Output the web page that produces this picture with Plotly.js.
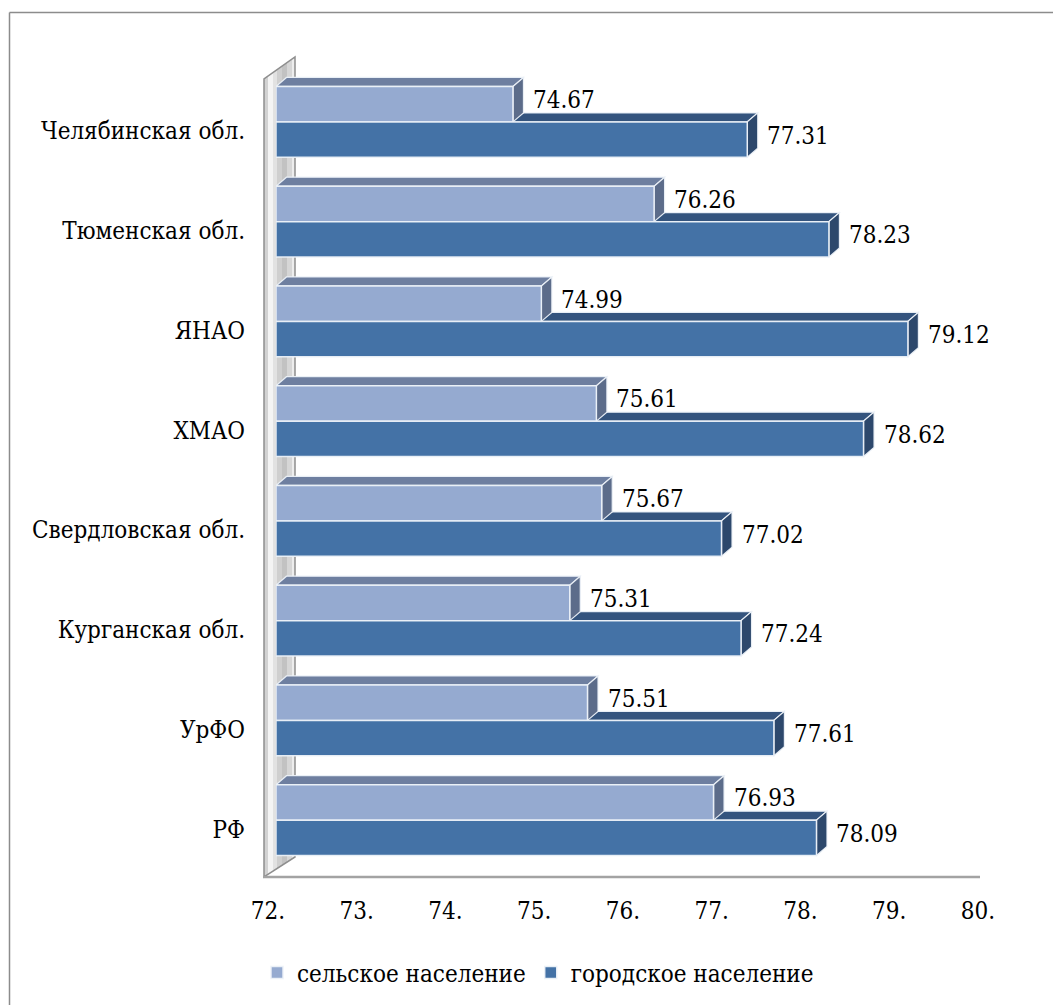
<!DOCTYPE html>
<html>
<head>
<meta charset="utf-8">
<script src="https://cdn.plot.ly/plotly-3.0.1.min.js"></script>
<style>
  html, body { margin: 0; padding: 0; background: #ffffff; }
  #chart { width: 1053px; height: 1005px; }
</style>
</head>
<body>
<div id="chart"></div>
<script>
// Life expectancy by region, rural vs urban population (listed bottom to top)
const regions = ['РФ', 'УрФО', 'Курганская обл.', 'Свердловская обл.', 'ХМАО', 'ЯНАО', 'Тюменская обл.', 'Челябинская обл.'];
const rural = [76.93, 75.51, 75.31, 75.67, 75.61, 74.99, 76.26, 74.67];
const urban = [78.09, 77.61, 77.24, 77.02, 78.62, 79.12, 78.23, 77.31];
const seriesNames = ['сельское население', 'городское население'];
const xTickVals = [72, 73, 74, 75, 76, 77, 78, 79, 80];
const xTickText = ['72.', '73.', '74.', '75.', '76.', '77.', '78.', '79.', '80.'];

// ---- figure geometry ----
const W = 1053, H = 1005;
const M = { l: 276, r: 67, t: 72, b: 135 };
const plotW = W - M.l - M.r, plotH = H - M.t - M.b;
const X0 = 72, X1 = 80, Y0 = -0.5, Y1 = 7.5;
const pxPerX = plotW / (X1 - X0), pxPerY = plotH / (Y1 - Y0);
const BAR_W = 0.355;
// oblique depth of each bar, given in pixels and converted to axis units
const DEPTH_DX = 10.5 / pxPerX, DEPTH_DY = 9 / pxPerY;

const FONT = 'DejaVu Serif Condensed, DejaVu Serif';
const colors = {
  rural: { front: '#95aad0', top: '#6e7fa0', side: '#5c6c8a' },
  urban: { front: '#4472a6', top: '#34547e', side: '#2d486c' }
};
const EDGE = 'rgba(236,241,248,0.95)';

// pixel -> paper helpers for the frame decorations
const px = x => (x - M.l) / plotW;
const py = y => (H - M.b - y) / plotH;
const poly = pts => 'M' + pts.map(p => px(p[0]).toFixed(5) + ',' + py(p[1]).toFixed(5)).join('L') + 'Z';

const shapes = [];

// left wall of the 3-D box: a thin panel shaded from light to grey
const wallF = 264, wallB = 295, wallTopF = 79, wallTopB = 57, floorY = 877, floorBackY = 857;
const slope = (wallTopF - wallTopB) / (wallB - wallF);
function wallBand(xa, xb, fill) {
  const ta = wallTopF - (xa - wallF) * slope, tb = wallTopF - (xb - wallF) * slope;
  const ba = floorY - (xa - wallF) * (floorY - floorBackY) / (wallB - wallF);
  const bb = floorY - (xb - wallF) * (floorY - floorBackY) / (wallB - wallF);
  shapes.push({ type: 'path', xref: 'paper', yref: 'paper', layer: 'below',
    path: poly([[xa, ba], [xa, ta], [xb, tb], [xb, bb]]), fillcolor: fill, line: { width: 0 } });
}
wallBand(wallF, wallF + 4, '#d2d2d2');
wallBand(wallF + 4, wallF + 9, '#f4f4f4');
wallBand(wallF + 9, wallF + 13, '#e2e2e2');
wallBand(wallF + 13, wallF + 18, '#cfcfcf');
wallBand(wallF + 18, wallF + 23, '#c2c2c2');
wallBand(wallF + 23, wallF + 28, '#d6d6d6');
wallBand(wallF + 28, wallB, '#ededed');
shapes.push({ type: 'path', xref: 'paper', yref: 'paper', layer: 'below',
  path: poly([[wallF, floorY], [wallF, wallTopF], [wallB, wallTopB], [wallB, floorBackY]]),
  fillcolor: 'rgba(0,0,0,0)', line: { color: '#8e8e8e', width: 1.5 } });
// floor front edge
shapes.push({ type: 'line', xref: 'paper', yref: 'paper', layer: 'below',
  x0: px(wallF - 1), x1: px(980), y0: py(floorY), y1: py(floorY),
  line: { color: '#a3a3a3', width: 2.5 } });
// outer frame of the chart area
shapes.push({ type: 'line', xref: 'paper', yref: 'paper', layer: 'below',
  x0: px(9.5), x1: px(W + 5), y0: py(12.5), y1: py(12.5), line: { color: '#8c8c8c', width: 1.5 } });
shapes.push({ type: 'line', xref: 'paper', yref: 'paper', layer: 'below',
  x0: px(9.5), x1: px(9.5), y0: py(12.5), y1: py(H + 5), line: { color: '#8c8c8c', width: 1.5 } });

// top and side faces of a bar spanning [X0, v] on the value axis and [yb, yt] on the category axis
function barFaces(v, yb, yt, c) {
  const dx = DEPTH_DX, dy = DEPTH_DY;
  shapes.push({ type: 'path', xref: 'x', yref: 'y', layer: 'below',
    path: `M${X0},${yt}L${v},${yt}L${v + dx},${yt + dy}L${X0 + dx},${yt + dy}Z`,
    fillcolor: c.top, line: { color: EDGE, width: 1.2 } });
  shapes.push({ type: 'path', xref: 'x', yref: 'y', layer: 'below',
    path: `M${v},${yb}L${v + dx},${yb + dy}L${v + dx},${yt + dy}L${v},${yt}Z`,
    fillcolor: c.side, line: { color: EDGE, width: 1.2 } });
}

const pos = regions.map((_, i) => i);
pos.forEach(i => {
  barFaces(urban[i], i - BAR_W, i, colors.urban);   // lower bar first: the upper one hides part of it
  barFaces(rural[i], i, i + BAR_W, colors.rural);
});

// value labels next to the bar ends
const labelFont = { family: FONT, size: 24, color: '#000000' };
const annotations = [];
pos.forEach(i => {
  annotations.push({ x: rural[i], y: i + BAR_W / 2, text: rural[i].toFixed(2), xref: 'x', yref: 'y',
    xanchor: 'left', yanchor: 'middle', xshift: 18, yshift: 4, showarrow: false, font: labelFont });
  annotations.push({ x: urban[i], y: i - BAR_W / 2, text: urban[i].toFixed(2), xref: 'x', yref: 'y',
    xanchor: 'left', yanchor: 'middle', xshift: 18, yshift: 4, showarrow: false, font: labelFont });
});

const traces = [
  { type: 'bar', orientation: 'h', name: seriesNames[0], y: pos, x: rural.map(v => v - X0), base: X0,
    width: BAR_W, offset: 0, marker: { color: colors.rural.front, line: { color: EDGE, width: 1.5 } },
    hoverinfo: 'skip' },
  { type: 'bar', orientation: 'h', name: seriesNames[1], y: pos, x: urban.map(v => v - X0), base: X0,
    width: BAR_W, offset: -BAR_W, marker: { color: colors.urban.front, line: { color: EDGE, width: 1.5 } },
    hoverinfo: 'skip' }
];

const layout = {
  width: W, height: H, margin: M,
  paper_bgcolor: '#ffffff', plot_bgcolor: 'rgba(0,0,0,0)',
  barmode: 'overlay',
  font: { family: FONT, size: 24, color: '#000000' },
  xaxis: { range: [X0, X1], tickvals: xTickVals, ticktext: xTickText, showgrid: false, zeroline: false,
    showline: false, ticks: '', ticklabelshift: -8, ticklabelstandoff: 24,
    tickfont: labelFont, fixedrange: true },
  yaxis: { range: [Y0, Y1], tickvals: pos, ticktext: regions, showgrid: false, zeroline: false,
    showline: false, ticks: '', ticklabelshift: 9, ticklabelstandoff: 30,
    tickfont: labelFont, fixedrange: true },
  showlegend: true,
  legend: { orientation: 'h', xref: 'container', yref: 'container', x: 257 / W, xanchor: 'left',
    y: 1 - 973 / H, yanchor: 'middle',
    font: { family: FONT, size: 24, color: '#000000' }, bgcolor: 'rgba(0,0,0,0)' },
  shapes: shapes,
  annotations: annotations
};

Plotly.newPlot('chart', traces, layout, { staticPlot: true, displayModeBar: false });
</script>
</body>
</html>
